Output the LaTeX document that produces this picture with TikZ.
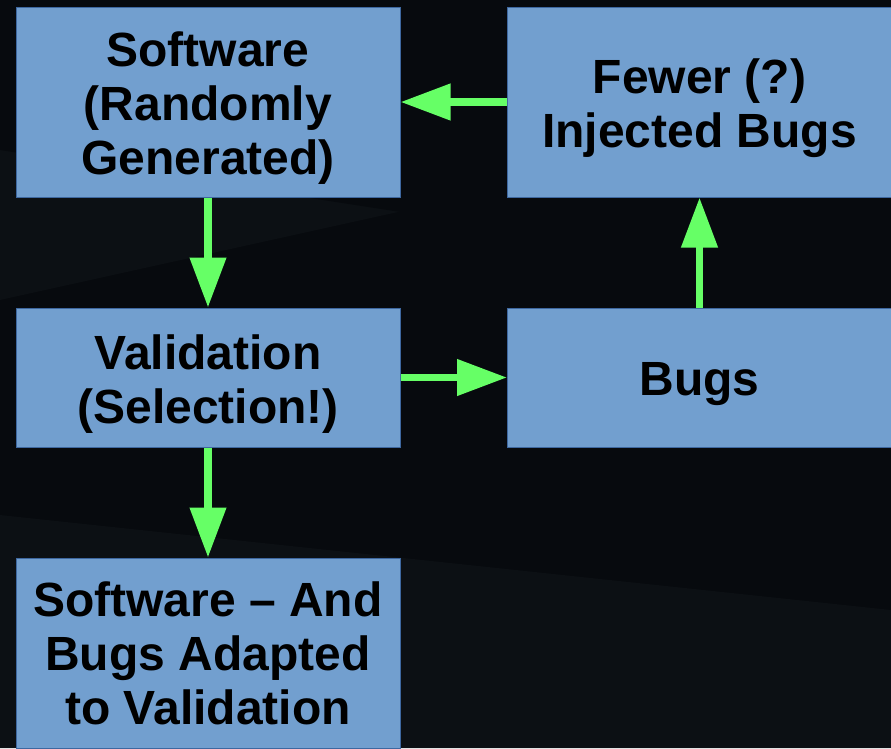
\documentclass[tikz,border=0pt]{standalone}
\usepackage{fontspec}
\setmainfont{Liberation Sans}
\usetikzlibrary{arrows.meta}
\definecolor{night}{RGB}{7,10,14}
\definecolor{haze}{RGB}{12,16,20}
\definecolor{sky}{RGB}{114,159,207}
\definecolor{rim}{RGB}{62,104,160}
\definecolor{lime}{RGB}{102,255,102}
\newcommand{\topgap}{\rule{0pt}{47pt}}

\begin{document}
\begin{tikzpicture}[x=1pt,y=-1pt,
  box/.style={draw=rim,line width=1pt,fill=sky,inner sep=0pt,
     minimum width=384pt,align=center,text=black,
     font=\fontsize{48}{54}\selectfont\bfseries},
  flow/.style={draw=lime,line width=7.5pt,
     -{Triangle[length=50pt,width=35pt]},shorten >=0pt}]
\useasboundingbox (0,0) rectangle (891,748);
\clip (0,0) rectangle (891,748);
% backdrop with faint diagonal bands
\fill[night] (0,0) rectangle (891,748);
\fill[haze] (0,300) -- (520,185) -- (891,170) -- (891,0) -- (0,0) -- cycle;
\fill[night] (0,150) -- (420,215) -- (891,200) -- (891,0) -- (0,0) -- cycle;
\fill[haze] (0,515) -- (891,610) -- (891,748) -- (0,748) -- cycle;
% boxes
\node[box,minimum height=190pt] (soft) at (208,102) {\topgap Software\\(Randomly\\Generated)};
\node[box,minimum height=190pt] (fewer) at (699.5,102) {\topgap Fewer (?)\\Injected Bugs};
\node[box,minimum height=139pt] (valid) at (208,377.5) {\topgap Validation\\(Selection!)};
\node[box,minimum height=139pt] (bugs) at (699.5,377.5) {\topgap Bugs};
\node[box,minimum height=190pt] (adapted) at (208,653) {Software – And\\Bugs Adapted\\to Validation};
% arrows
\draw[flow] (soft) -- (valid);
\draw[flow] (valid) -- (adapted);
\draw[flow] (valid) -- (bugs);
\draw[flow] (bugs) -- (fewer);
\draw[flow] (fewer) -- (soft);
\end{tikzpicture}
\end{document}
